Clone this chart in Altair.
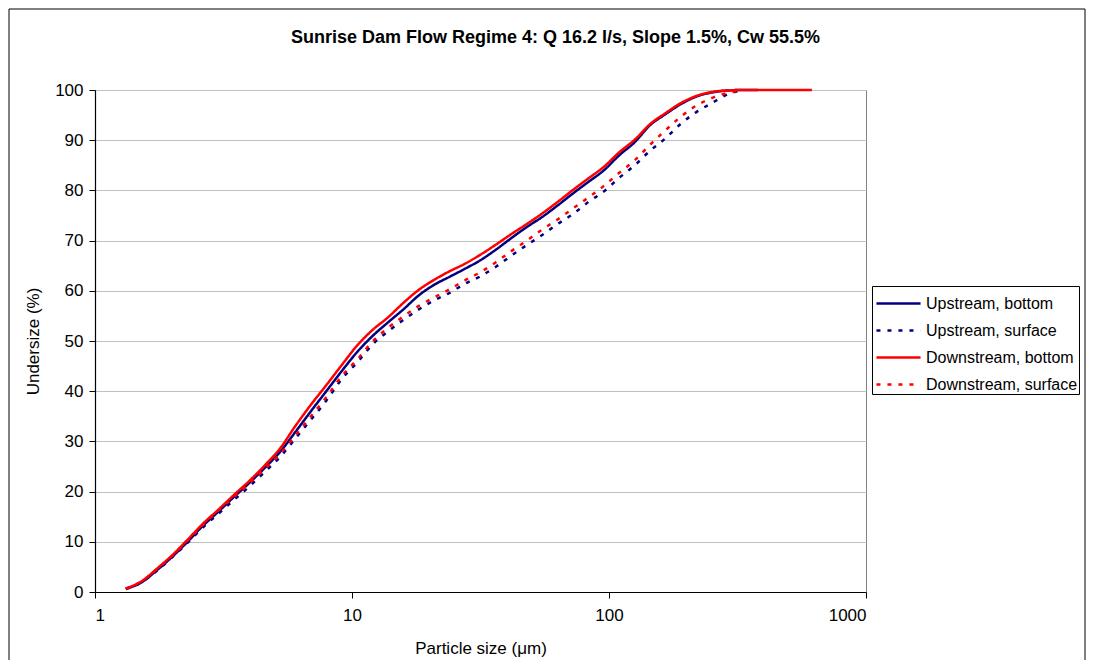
import altair as alt
import pandas as pd

# Particle sizes (µm), laser-diffraction bins
sizes_um = [1.318, 1.514, 1.738, 1.995, 2.291, 2.630, 3.020, 3.467, 3.981, 4.571,
            5.248, 6.026, 6.918, 7.943, 9.120, 10.47, 12.02, 13.80, 15.85, 18.20,
            20.89, 23.99, 27.54, 31.62, 36.31, 41.69, 47.86, 54.95, 63.10, 72.44,
            83.18, 95.50, 109.6, 125.9, 144.5, 166.0, 190.5, 218.8, 251.2, 288.4,
            331.1, 380.2, 436.5, 501.2, 575.4, 616.0]

upstream_bottom = [0.6, 1.9, 4.3, 7.0, 10.0, 13.2, 16.0, 18.9, 21.7, 24.7,
                   27.9, 31.9, 36.0, 40.0, 44.0, 47.8, 51.0, 53.7, 56.3, 59.1,
                   61.2, 62.8, 64.4, 66.1, 68.2, 70.5, 72.7, 74.7, 77.0, 79.4,
                   81.7, 84.0, 87.0, 89.6, 93.0, 95.2, 97.2, 98.7, 99.5, 99.9,
                   100, 100, None, None, None, None]

upstream_surface = [0.6, 1.9, 4.2, 6.9, 9.8, 12.9, 15.6, 18.3, 21.0, 23.9,
                    26.9, 30.6, 34.3, 38.1, 42.4, 45.7, 49.3, 51.9, 54.2, 56.3,
                    58.1, 59.6, 61.4, 62.9, 64.8, 67.0, 69.1, 71.1, 73.3, 75.3,
                    77.7, 79.8, 82.5, 85.0, 87.9, 90.4, 93.3, 95.6, 97.4, 99.1,
                    100, None, None, None, None, None]

downstream_bottom = [0.7, 2.1, 4.6, 7.3, 10.4, 13.6, 16.4, 19.3, 22.1, 25.2,
                     28.6, 33.1, 37.3, 41.2, 45.2, 49.1, 52.2, 54.7, 57.6, 60.2,
                     62.2, 63.9, 65.4, 67.2, 69.2, 71.3, 73.3, 75.4, 77.7, 80.1,
                     82.4, 84.7, 87.6, 90.1, 93.2, 95.4, 97.4, 98.8, 99.6, 99.9,
                     100, 100, 100, 100, 100, 100]

downstream_surface = [0.7, 2.1, 4.5, 7.2, 10.2, 13.4, 16.2, 18.9, 21.6, 24.5,
                      27.5, 31.2, 35.0, 38.8, 43.0, 46.3, 49.9, 52.6, 54.9, 57.0,
                      58.7, 60.3, 62.1, 63.7, 65.7, 67.9, 70.0, 72.2, 74.2, 76.4,
                      78.6, 80.9, 83.5, 86.0, 89.1, 92.0, 94.7, 96.9, 98.4, 99.4,
                      100, None, None, None, None, None]

series_names = ["Upstream, bottom", "Upstream, surface",
                "Downstream, bottom", "Downstream, surface"]
series_colors = ["#000080", "#000080", "#FF0000", "#FF0000"]
series_dashes = [[1, 0], [4, 7], [1, 0], [4, 7]]

x_ticks = [1, 10, 100, 1000]
y_ticks = [0, 10, 20, 30, 40, 50, 60, 70, 80, 90, 100]

title_text = "Sunrise Dam Flow Regime 4: Q 16.2 l/s, Slope 1.5%, Cw 55.5%"

rows = []
for name, vals in zip(series_names, [upstream_bottom, upstream_surface,
                                     downstream_bottom, downstream_surface]):
    for i, (s, v) in enumerate(zip(sizes_um, vals)):
        if v is not None:
            rows.append({"series": name, "size": s, "undersize": v, "idx": i})
df = pd.DataFrame(rows)

FONT = "Liberation Sans"

legend_def = alt.Legend(
    title=None, orient="none", legendX=777, legendY=196,
    strokeColor="black", fillColor="white", padding=1,
    labelFont=FONT, labelFontSize=16, labelColor="black", labelOffset=20,
    labelLimit=400,
    symbolType="M-0.87,0H2.07", symbolStrokeWidth=2.5, symbolSize=900,
    rowPadding=2,
)

lines = alt.Chart(df).mark_line(strokeWidth=2.5, interpolate="monotone").encode(
    x=alt.X("size:Q",
            scale=alt.Scale(type="log", domain=[1, 1000], nice=False),
            axis=alt.Axis(values=x_ticks, format="d", title="Particle size (μm)",
                          grid=False, tickSize=6, labelPadding=9, titlePadding=17)),
    y=alt.Y("undersize:Q",
            scale=alt.Scale(domain=[0, 100], nice=False),
            axis=alt.Axis(values=y_ticks, title="Undersize (%)", grid=True,
                          tickSize=6, labelPadding=6, titlePadding=12)),
    color=alt.Color("series:N", sort=series_names,
                    scale=alt.Scale(domain=series_names, range=series_colors),
                    legend=legend_def),
    strokeDash=alt.StrokeDash("series:N", sort=series_names,
                              scale=alt.Scale(domain=series_names, range=series_dashes),
                              legend=legend_def),
    order="idx:Q",
)

frame = alt.Chart(pd.DataFrame({"f": [0]})).mark_rect(
    fill="transparent", stroke="black", strokeWidth=1
).encode(x=alt.value(-86), x2=alt.value(990), y=alt.value(-81), y2=alt.value(600))

chart = alt.layer(frame, lines).properties(
    width=771, height=502,
    padding={"left": 87, "top": 82, "right": 222, "bottom": 68},
    autosize=alt.AutoSizeParams(type="none"),
    title=alt.Title(title_text, font=FONT, fontSize=18, fontWeight="bold",
                    color="black", anchor="middle", frame="group", dx=75, offset=-38),
).configure_view(
    stroke="#808080", strokeWidth=1
).configure_axis(
    domainColor="black", tickColor="black", labelFont=FONT, titleFont=FONT,
    labelFontSize=17, titleFontSize=17, labelColor="black", titleColor="black",
    titleFontWeight="normal", gridColor="#c0c0c0", gridWidth=1, domainWidth=1.2,
)

chart.save("out.html", embed_options={"renderer": "svg", "actions": False})
